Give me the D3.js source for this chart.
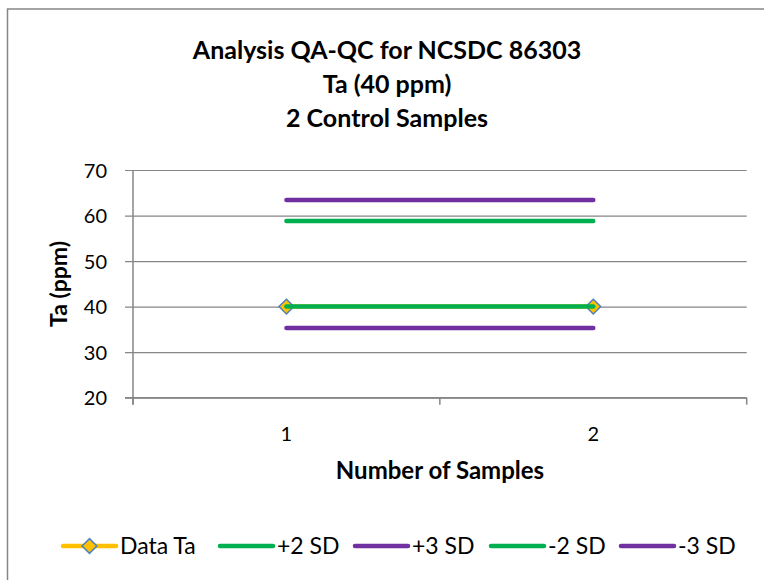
<!DOCTYPE html>
<html>
<head>
<meta charset="utf-8">
<script src="https://cdn.jsdelivr.net/npm/d3@7"></script>
<style>
  body { margin: 0; background: #fff; }
  text { font-family: Lato, "Open Sans", sans-serif; fill: #000; }
</style>
</head>
<body>
<script>
// Chart data
const categories = ["1", "2"];
const dataTa = [40, 40];
const plus2SD = [58.8, 58.8];
const plus3SD = [63.4, 63.4];
const minus2SD = [40, 40];
const minus3SD = [35.3, 35.3];
const yTicks = [20, 30, 40, 50, 60, 70];
const titleLines = ["Analysis QA-QC for NCSDC 86303", "Ta (40 ppm)", "2 Control Samples"];

const series = [
  { name: "Data Ta", values: dataTa, color: "#FFC000", marker: true },
  { name: "+2 SD", values: plus2SD, color: "#00B050" },
  { name: "+3 SD", values: plus3SD, color: "#7030A0" },
  { name: "-2 SD", values: minus2SD, color: "#00B050" },
  { name: "-3 SD", values: minus3SD, color: "#7030A0" }
];

const width = 764, height = 580;
const plot = { left: 133, right: 746.7, top: 170, bottom: 397.7 };

const svg = d3.select("body").append("svg")
    .attr("width", width)
    .attr("height", height);

// Chart frame
svg.append("rect")
    .attr("x", 7.5).attr("y", 9)
    .attr("width", 800).attr("height", 600)
    .attr("fill", "none")
    .attr("stroke", "#868686")
    .attr("stroke-width", 1.5);

// Scales
const x = d3.scaleBand().domain(categories).range([plot.left, plot.right]);
const y = d3.scaleLinear().domain([20, 70]).range([plot.bottom, plot.top]);

// Gridlines + y axis
const yAxis = d3.axisLeft(y).tickValues(yTicks)
    .tickSize(-(plot.right - plot.left))
    .tickPadding(26);
const gy = svg.append("g")
    .attr("transform", `translate(${plot.left},0)`)
    .call(yAxis);
gy.select(".domain").remove();
gy.selectAll(".tick line")
    .attr("x1", -8)
    .attr("stroke", "#868686")
    .attr("stroke-width", 1.2);
gy.selectAll(".tick text")
    .style("font-size", "20px")
    .attr("dy", "0.35em");

// vertical axis line
svg.append("line")
    .attr("x1", plot.left).attr("x2", plot.left)
    .attr("y1", plot.top).attr("y2", plot.bottom + 7)
    .attr("stroke", "#868686").attr("stroke-width", 1.5);

// x axis
const gx = svg.append("g")
    .attr("transform", `translate(0,${plot.bottom})`);
gx.append("line")
    .attr("x1", plot.left - 8).attr("x2", plot.right)
    .attr("stroke", "#868686").attr("stroke-width", 1.5);
const bounds = categories.map(c => x(c)).concat([plot.right]);
gx.selectAll(".xtick").data(bounds).enter().append("line")
    .attr("x1", d => d).attr("x2", d => d)
    .attr("y1", 0).attr("y2", 7)
    .attr("stroke", "#868686").attr("stroke-width", 1.5);
gx.selectAll(".xlabel").data(categories).enter().append("text")
    .attr("x", d => x(d) + x.bandwidth() / 2)
    .attr("y", 43)
    .attr("text-anchor", "middle")
    .style("font-size", "20px")
    .text(d => d);

// Series lines
const line = d3.line()
    .x((d, i) => x(categories[i]) + x.bandwidth() / 2)
    .y(d => y(d));

const diamond = d3.symbol().type(d3.symbolSquare).size(110);

series.forEach(s => {
  svg.append("path")
      .datum(s.values)
      .attr("fill", "none")
      .attr("stroke", s.color)
      .attr("stroke-width", 4.5)
      .attr("stroke-linecap", "round")
      .attr("d", line);
  if (s.marker) {
    svg.selectAll(null).data(s.values).enter().append("path")
        .attr("d", diamond)
        .attr("transform", (d, i) => `translate(${x(categories[i]) + x.bandwidth() / 2},${y(d)}) rotate(45)`)
        .attr("fill", s.color)
        .attr("stroke", "#4F81BD")
        .attr("stroke-width", 1.5);
  }
});

// Title
svg.append("text")
    .attr("text-anchor", "middle")
    .style("font-size", "25px")
    .style("font-weight", "bold")
    .selectAll("tspan").data(titleLines).enter().append("tspan")
    .attr("x", 387)
    .attr("y", (d, i) => 59 + i * 34)
    .text(d => d);

// Axis titles
svg.append("text")
    .attr("x", 440).attr("y", 479)
    .attr("text-anchor", "middle")
    .style("font-size", "24px")
    .style("font-weight", "bold")
    .text("Number of Samples");

svg.append("text")
    .attr("transform", "translate(67,284) rotate(-90)")
    .attr("text-anchor", "middle")
    .style("font-size", "23px")
    .style("font-weight", "bold")
    .text("Ta (ppm)");

// Legend
const legendX = [61, 218, 353, 489, 619];
const legend = svg.append("g").attr("transform", "translate(0,546)");
series.forEach((s, i) => {
  const g = legend.append("g").attr("transform", `translate(${legendX[i]},0)`);
  g.append("line")
      .attr("x1", 2).attr("x2", 55)
      .attr("stroke", s.color)
      .attr("stroke-width", 4.5)
      .attr("stroke-linecap", "round");
  if (s.marker) {
    g.append("path")
        .attr("d", diamond)
        .attr("transform", "translate(28.5,0) rotate(45)")
        .attr("fill", s.color)
        .attr("stroke", "#4F81BD")
        .attr("stroke-width", 1.5);
  }
  g.append("text")
      .attr("x", 59)
      .attr("dy", "0.35em")
      .style("font-size", "23px")
      .text(s.name);
});
</script>
</body>
</html>
